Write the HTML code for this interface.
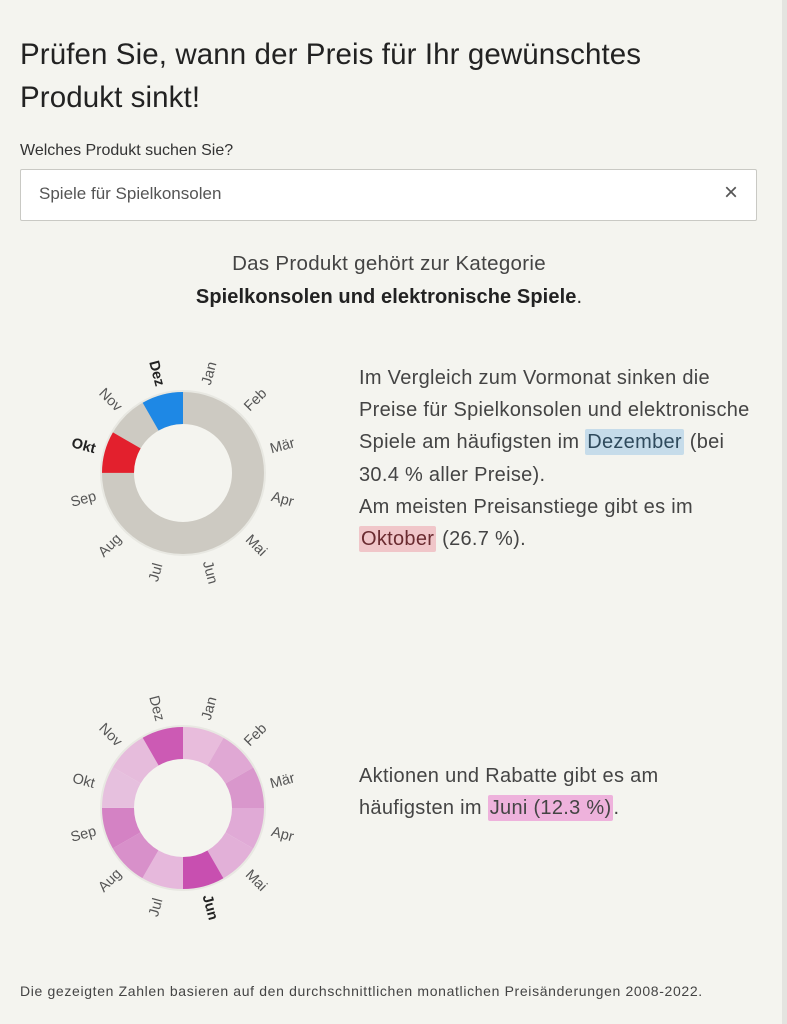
<!DOCTYPE html>
<html><head><meta charset="utf-8"><style>
html,body{margin:0;padding:0}
body{width:787px;height:1024px;background:#f4f4ef;position:relative;overflow:hidden;font-family:"Liberation Sans",sans-serif;color:#333}
.edge{position:absolute;left:782px;top:0;width:5px;height:1024px;background:#e4e4e0}
.t{position:absolute;white-space:nowrap}
h1{position:absolute;left:20px;top:33px;margin:0;font-size:29.5px;font-weight:normal;line-height:43px;color:#222;letter-spacing:0.1px}
.inp{position:absolute;left:20px;top:169px;width:735px;height:50px;background:#fff;border:1px solid #c9c9c4;border-radius:2px}
.p{font-size:20px;color:#444;letter-spacing:0.3px}
.hb{background:#c6dcea;padding:2px 2px;border-radius:2px;color:#2f4a5c}
.hr{background:#f0c6c9;padding:2px 2px;border-radius:2px;color:#6a2b30}
.hp{background:#eeb2dc;padding:2px 2px;border-radius:2px}
svg text{font-family:"Liberation Sans",sans-serif;font-size:14.5px;fill:#555}
</style></head><body>
<div class="edge"></div>
<h1>Prüfen Sie, wann der Preis für Ihr gewünschtes<br>Produkt sinkt!</h1>
<div class="t" style="left:20px;top:142px;font-size:16px;color:#333">Welches Produkt suchen Sie?</div>
<div class="inp"></div>
<div class="t" style="left:39px;top:184px;font-size:17px;color:#555">Spiele für Spielkonsolen</div>
<div class="t" style="left:724px;top:179px;font-size:24px;color:#555">×</div>
<div class="t p" style="left:0;width:778px;text-align:center;top:252px;font-size:20.5px">Das Produkt gehört zur Kategorie</div>
<div class="t p" style="left:2px;width:774px;text-align:center;top:286px;color:#222;font-size:20px;letter-spacing:0.1px"><b>Spielkonsolen und elektronische Spiele</b>.</div>

<svg style="position:absolute;left:63px;top:353px" width="240" height="240" viewBox="-120 -120 240 240">
<circle r="81" fill="none" stroke="#e8e8e2" stroke-width="4"/>
<g transform="rotate(-90)" fill="none" stroke-width="32">
<circle r="65" stroke="#cdcac2"/>
<circle r="65" stroke="#1e88e5" stroke-dasharray="34.03 374.38" stroke-dashoffset="34.03"/>
<circle r="65" stroke="#e3202d" stroke-dasharray="34.03 374.38" stroke-dashoffset="102.1"/>
</g>
<text x="26.7" y="-99.5" text-anchor="middle" dominant-baseline="central" transform="rotate(-75 26.7 -99.5)">Jan</text>
<text x="72.8" y="-72.8" text-anchor="middle" dominant-baseline="central" transform="rotate(-45 72.8 -72.8)">Feb</text>
<text x="99.5" y="-26.7" text-anchor="middle" dominant-baseline="central" transform="rotate(-15 99.5 -26.7)">Mär</text>
<text x="99.5" y="26.7" text-anchor="middle" dominant-baseline="central" transform="rotate(15 99.5 26.7)">Apr</text>
<text x="72.8" y="72.8" text-anchor="middle" dominant-baseline="central" transform="rotate(45 72.8 72.8)">Mai</text>
<text x="26.7" y="99.5" text-anchor="middle" dominant-baseline="central" transform="rotate(75 26.7 99.5)">Jun</text>
<text x="-26.7" y="99.5" text-anchor="middle" dominant-baseline="central" transform="rotate(-75 -26.7 99.5)">Jul</text>
<text x="-72.8" y="72.8" text-anchor="middle" dominant-baseline="central" transform="rotate(-45 -72.8 72.8)">Aug</text>
<text x="-99.5" y="26.7" text-anchor="middle" dominant-baseline="central" transform="rotate(-15 -99.5 26.7)">Sep</text>
<text x="-99.5" y="-26.7" text-anchor="middle" dominant-baseline="central" transform="rotate(15 -99.5 -26.7)" style="font-weight:bold;fill:#222">Okt</text>
<text x="-72.8" y="-72.8" text-anchor="middle" dominant-baseline="central" transform="rotate(45 -72.8 -72.8)">Nov</text>
<text x="-26.7" y="-99.5" text-anchor="middle" dominant-baseline="central" transform="rotate(75 -26.7 -99.5)" style="font-weight:bold;fill:#222">Dez</text>
</svg>

<div class="t p" style="left:359px;top:362px;line-height:32.2px">Im Vergleich zum Vormonat sinken die<br>Preise für Spielkonsolen und elektronische<br>Spiele am häufigsten im <span class="hb">Dezember</span> (bei<br>30.4 % aller Preise).<br>Am meisten Preisanstiege gibt es im<br><span class="hr">Oktober</span> (26.7 %).</div>

<svg style="position:absolute;left:63px;top:688px" width="240" height="240" viewBox="-120 -120 240 240">
<circle r="81" fill="none" stroke="#e8e8e2" stroke-width="4"/>
<g transform="rotate(-90)" fill="none" stroke-width="32" stroke-dasharray="34.03 374.38">
<circle r="65" stroke="#e8bcdc" stroke-dashoffset="0"/>
<circle r="65" stroke="#e0a8d4" stroke-dashoffset="-34.03"/>
<circle r="65" stroke="#d997cc" stroke-dashoffset="-68.07"/>
<circle r="65" stroke="#e0aad6" stroke-dashoffset="-102.1"/>
<circle r="65" stroke="#e2b0d8" stroke-dashoffset="-136.14"/>
<circle r="65" stroke="#c84fb0" stroke-dashoffset="-170.17"/>
<circle r="65" stroke="#e6b8dc" stroke-dashoffset="-204.2"/>
<circle r="65" stroke="#d890ca" stroke-dashoffset="-238.24"/>
<circle r="65" stroke="#d482c4" stroke-dashoffset="-272.27"/>
<circle r="65" stroke="#e6c0de" stroke-dashoffset="-306.3"/>
<circle r="65" stroke="#e6bcdc" stroke-dashoffset="-340.34"/>
<circle r="65" stroke="#cc5ab4" stroke-dashoffset="-374.38"/>
</g>
<text x="26.7" y="-99.5" text-anchor="middle" dominant-baseline="central" transform="rotate(-75 26.7 -99.5)">Jan</text>
<text x="72.8" y="-72.8" text-anchor="middle" dominant-baseline="central" transform="rotate(-45 72.8 -72.8)">Feb</text>
<text x="99.5" y="-26.7" text-anchor="middle" dominant-baseline="central" transform="rotate(-15 99.5 -26.7)">Mär</text>
<text x="99.5" y="26.7" text-anchor="middle" dominant-baseline="central" transform="rotate(15 99.5 26.7)">Apr</text>
<text x="72.8" y="72.8" text-anchor="middle" dominant-baseline="central" transform="rotate(45 72.8 72.8)">Mai</text>
<text x="26.7" y="99.5" text-anchor="middle" dominant-baseline="central" transform="rotate(75 26.7 99.5)" style="font-weight:bold;fill:#222">Jun</text>
<text x="-26.7" y="99.5" text-anchor="middle" dominant-baseline="central" transform="rotate(-75 -26.7 99.5)">Jul</text>
<text x="-72.8" y="72.8" text-anchor="middle" dominant-baseline="central" transform="rotate(-45 -72.8 72.8)">Aug</text>
<text x="-99.5" y="26.7" text-anchor="middle" dominant-baseline="central" transform="rotate(-15 -99.5 26.7)">Sep</text>
<text x="-99.5" y="-26.7" text-anchor="middle" dominant-baseline="central" transform="rotate(15 -99.5 -26.7)">Okt</text>
<text x="-72.8" y="-72.8" text-anchor="middle" dominant-baseline="central" transform="rotate(45 -72.8 -72.8)">Nov</text>
<text x="-26.7" y="-99.5" text-anchor="middle" dominant-baseline="central" transform="rotate(75 -26.7 -99.5)">Dez</text>
</svg>

<div class="t p" style="left:359px;top:760px;line-height:32.2px">Aktionen und Rabatte gibt es am<br>häufigsten im <span class="hp">Juni (12.3 %)</span>.</div>

<div class="t" style="left:20px;top:983px;font-size:14px;letter-spacing:0.65px;color:#444">Die gezeigten Zahlen basieren auf den durchschnittlichen monatlichen Preisänderungen 2008-2022.</div>
</body></html>
